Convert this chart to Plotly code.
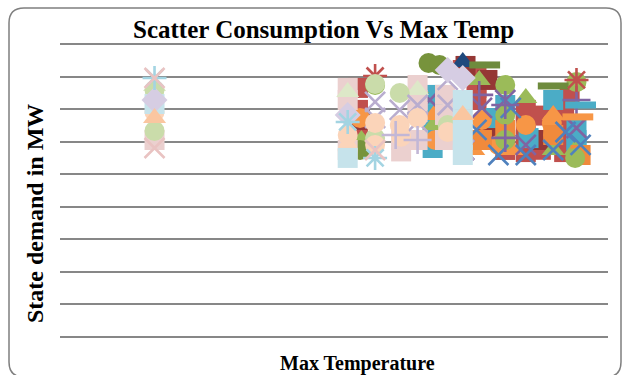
import plotly.graph_objects as go

# Max temperature (deg C) and state demand (MW) for each plotted series
temps_red_sq = [31.75, 31.75, 31.75, 40.4, 40.4, 40.4, 41.0, 44.0, 44.0, 44.0, 44.0, 46.8, 46.8, 46.8, 46.8, 39.4, 42.5, 47.2, 45.1, 45.1]
demand_red_sq = [15300, 13950, 12410, 16280, 15300, 14560, 12840, 13950, 13020, 12100, 11360, 14560, 13330, 12100, 11360, 16400, 11490, 14870, 13600, 11500]

temps_darkred_sq = [31.9, 41.2, 41.2, 39.6, 45.0]
demand_darkred_sq = [13330, 15790, 12720, 16650, 12100]

temps_aqua_sq = [37.2, 37.2, 37.2, 37.2, 42.5, 46.0, 47.7, 47.7, 44.2, 41.8, 47.7]
demand_aqua_sq = [14870, 13640, 12410, 11610, 14250, 14560, 12720, 11610, 12220, 13450, 12100]

temps_orange_ci = [31.9, 40.8, 42.0, 44.0, 46.0, 47.7, 37.4, 45.9]
demand_orange_ci = [13450, 13330, 11800, 13020, 12410, 11180, 12100, 13150]

temps_green_tri = [40.6, 44.0, 36.1, 37.3, 46.0, 32.0, 47.6]
demand_green_tri = [15790, 14680, 15300, 13020, 11490, 12100, 11490]

temps_orange_tri = [37.3, 46.0, 43.0, 40.2]
demand_orange_tri = [13640, 13640, 11490, 11490]

temps_orange_sq = [42.5, 46.0, 48.0, 40.8]
demand_orange_sq = [12720, 12410, 11180, 12100]

temps_green_ci = [42.5, 42.5, 42.5, 47.7, 33.0, 47.6]
demand_green_ci = [15480, 13640, 12100, 15660, 15480, 11000]

temps_purple_x = [37.0, 40.8, 42.5, 44.0, 47.7, 39.5]
demand_purple_x = [14560, 14070, 14560, 11800, 12840, 11490]

temps_blue_x = [42.0, 44.0, 46.0, 46.9, 48.0, 40.4, 42.9]
demand_blue_x = [11180, 11180, 11490, 12590, 11800, 12720, 14070]

temps_purple_plus = [42.5, 42.5, 47.7, 40.6]
demand_purple_plus = [14250, 12230, 14560, 14870]

temps_navy_tri = [39.4]
demand_navy_tri = [16890]

temps_dkgreen_ci = [36.9, 37.7, 31.9]
demand_dkgreen_ci = [16830, 16710, 11490]

temps_olive_dash = [41.0, 46.0]
demand_olive_dash = [16710, 15420]

temps_aqua_dash = [48.0]
demand_aqua_dash = [14250]

temps_orange_dash = [47.8]
demand_orange_dash = [13520]

temps_red_star = [47.7, 33.0]
demand_red_star = [15790, 16030]

temps_pink_sq = [31.0, 31.0, 36.1, 36.1, 36.1, 36.1, 38.1, 38.1, 38.1, 34.9, 31.0, 16.9, 34.9]
demand_pink_sq = [15300, 14560, 15480, 14560, 13820, 12100, 14870, 13640, 12100, 12100, 11490, 12100, 11400]

temps_ltgreen_tri = [31.0, 36.1, 16.9]
demand_ltgreen_tri = [15050, 15170, 15420]

temps_ltgreen_ci = [33.0, 34.8, 16.9, 16.9, 33.0, 38.3]
demand_ltgreen_ci = [15540, 14990, 15170, 12660, 12220, 13020]

temps_lav_x = [33.0, 33.0, 34.8, 36.1, 36.1, 38.3, 38.3, 39.5]
demand_lav_x = [14440, 13450, 13950, 14250, 13210, 15790, 14250, 11490]

temps_peach_ci = [31.0, 31.0, 33.0, 33.0, 34.8, 36.1, 38.3, 16.9, 34.9]
demand_peach_ci = [12410, 11490, 13150, 11800, 13020, 13450, 12590, 13820, 12300]

temps_ltblue_sq = [39.4, 39.4, 39.4, 39.4, 31.0, 16.9]
demand_ltblue_sq = [14560, 13330, 12100, 11180, 11000, 14310]

temps_lav_di = [39.4, 38.3, 16.9, 31.0]
demand_lav_di = [15910, 16400, 14560, 13640]

temps_ltblue_star = [33.0, 31.0, 16.9]
demand_ltblue_star = [11000, 13210, 15910]

temps_pink_x = [16.9, 16.9, 33.0]
demand_pink_x = [15910, 11610, 11490]

temps_peach_tri = [39.4, 16.9]
demand_peach_tri = [13640, 13450]

temps_lav_plus = [36.1, 34.5]
demand_lav_plus = [12100, 12410]

# (x values, y values, marker symbol, colour) in drawing order
series = [
    (temps_red_sq, demand_red_sq, "square", "#C0504D"),
    (temps_darkred_sq, demand_darkred_sq, "square", "#953735"),
    (temps_aqua_sq, demand_aqua_sq, "square", "#4BACC6"),
    (temps_orange_ci, demand_orange_ci, "circle", "#F79646"),
    (temps_green_tri, demand_green_tri, "triangle-up", "#9BBB59"),
    (temps_orange_tri, demand_orange_tri, "triangle-up", "#F79646"),
    (temps_orange_sq, demand_orange_sq, "square", "#F08A3C"),
    (temps_green_ci, demand_green_ci, "circle", "#9BBB59"),
    (temps_purple_x, demand_purple_x, "x-thin", "#8064A2"),
    (temps_blue_x, demand_blue_x, "x-thin", "#4F81BD"),
    (temps_purple_plus, demand_purple_plus, "cross-thin", "#8064A2"),
    (temps_navy_tri, demand_navy_tri, "triangle-up", "#1F497D"),
    (temps_dkgreen_ci, demand_dkgreen_ci, "circle", "#77933C"),
    (temps_olive_dash, demand_olive_dash, "line-ew", "#6E8B3D"),
    (temps_aqua_dash, demand_aqua_dash, "line-ew", "#4BACC6"),
    (temps_orange_dash, demand_orange_dash, "line-ew", "#F79646"),
    (temps_red_star, demand_red_star, "asterisk", "#C0504D"),
    (temps_pink_sq, demand_pink_sq, "square", "#EBD0CF"),
    (temps_ltgreen_tri, demand_ltgreen_tri, "triangle-up", "#DDE8C8"),
    (temps_ltgreen_ci, demand_ltgreen_ci, "circle", "#CADCAA"),
    (temps_lav_x, demand_lav_x, "x-thin", "#B9ADCF"),
    (temps_peach_ci, demand_peach_ci, "circle", "#FBD4B9"),
    (temps_ltblue_sq, demand_ltblue_sq, "square", "#C6E3EB"),
    (temps_lav_di, demand_lav_di, "diamond", "#D6CDE3"),
    (temps_ltblue_star, demand_ltblue_star, "asterisk", "#A3D4E2"),
    (temps_pink_x, demand_pink_x, "x-thin", "#E9C3C2"),
    (temps_peach_tri, demand_peach_tri, "triangle-up", "#FAC6A0"),
    (temps_lav_plus, demand_lav_plus, "cross-thin", "#C2B7D6"),
]

fig = go.Figure()
for xs, ys, sym, col in series:
    thin = sym in ("x-thin", "cross-thin", "asterisk")
    dash = sym == "line-ew"
    fig.add_trace(go.Scatter(
        x=xs, y=ys, mode="markers", showlegend=False, hoverinfo="skip",
        marker=dict(
            symbol=sym,
            size=22 if dash else 20,
            color=col,
            line=dict(color=col, width=7 if dash else (2.6 if thin else 0)),
        ),
    ))

W, H = 625, 375
L, R, T, B = 60, 17, 42, 36
pw, ph = W - L - R, H - T - B


def px(x):
    return (x - L) / pw


def py(y):
    return (H - B - y) / ph


# rounded chart border
x0, x1, y0, y1 = px(9), px(621), py(377), py(8)
rx, ry = 15 / pw, 15 / ph
border = (f"M {x0+rx},{y1} L {x1-rx},{y1} Q {x1},{y1} {x1},{y1-ry} "
          f"L {x1},{y0+ry} Q {x1},{y0} {x1-rx},{y0} L {x0+rx},{y0} "
          f"Q {x0},{y0} {x0},{y0+ry} L {x0},{y1-ry} Q {x0},{y1} {x0+rx},{y1} Z")

serif = "Liberation Serif, Times New Roman, serif"

fig.update_layout(
    width=W, height=H,
    margin=dict(l=L, r=R, t=T, b=B),
    paper_bgcolor="white", plot_bgcolor="white",
    xaxis=dict(range=[10, 50], showgrid=False, zeroline=False, showline=False,
               showticklabels=False, ticks=""),
    yaxis=dict(range=[-120, 18120], tick0=0, dtick=2000, showgrid=True,
               gridcolor="#878787", gridwidth=1.6, zeroline=False,
               showline=False, showticklabels=False, ticks=""),
    shapes=[dict(type="path", path=border, xref="paper", yref="paper",
                 line=dict(color="#7F7F7F", width=1.5), layer="above")],
    annotations=[
        dict(text="<b>Scatter Consumption Vs Max Temp</b>", xref="paper", yref="paper",
             x=px(323), y=py(30), xanchor="center", yanchor="middle",
             showarrow=False, font=dict(family=serif, size=25, color="black")),
        dict(text="<b>Max Temperature</b>", xref="paper", yref="paper",
             x=px(358), y=py(363), xanchor="center", yanchor="middle",
             showarrow=False, font=dict(family=serif, size=20, color="black")),
        dict(text="<b>State demand in MW</b>", xref="paper", yref="paper",
             x=px(35), y=py(214), xanchor="center", yanchor="middle", textangle=-90,
             showarrow=False, font=dict(family=serif, size=24, color="black")),
    ],
)

fig.write_html("out.html")
